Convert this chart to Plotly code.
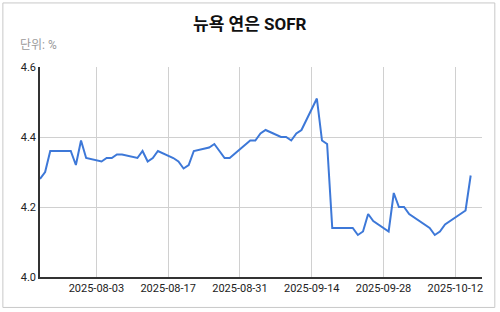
import plotly.graph_objects as go

dates = [
    "2025-07-23", "2025-07-24", "2025-07-25", "2025-07-28", "2025-07-29", "2025-07-30", "2025-07-31",
    "2025-08-01", "2025-08-04", "2025-08-05", "2025-08-06", "2025-08-07", "2025-08-08",
    "2025-08-11", "2025-08-12", "2025-08-13", "2025-08-14", "2025-08-15",
    "2025-08-18", "2025-08-19", "2025-08-20", "2025-08-21", "2025-08-22",
    "2025-08-25", "2025-08-26", "2025-08-27", "2025-08-28", "2025-08-29",
    "2025-09-02", "2025-09-03", "2025-09-04", "2025-09-05",
    "2025-09-08", "2025-09-09", "2025-09-10", "2025-09-11", "2025-09-12",
    "2025-09-15", "2025-09-16", "2025-09-17", "2025-09-18", "2025-09-19",
    "2025-09-22", "2025-09-23", "2025-09-24", "2025-09-25", "2025-09-26",
    "2025-09-29", "2025-09-30", "2025-10-01", "2025-10-02", "2025-10-03",
    "2025-10-06", "2025-10-07", "2025-10-08", "2025-10-09", "2025-10-10",
    "2025-10-14", "2025-10-15",
]
sofr = [
    4.28, 4.30, 4.36, 4.36, 4.36, 4.32, 4.39,
    4.34, 4.33, 4.34, 4.34, 4.35, 4.35,
    4.34, 4.36, 4.33, 4.34, 4.36,
    4.34, 4.33, 4.31, 4.32, 4.36,
    4.37, 4.38, 4.36, 4.34, 4.34,
    4.39, 4.39, 4.41, 4.42,
    4.40, 4.40, 4.39, 4.41, 4.42,
    4.51, 4.39, 4.38, 4.14, 4.14,
    4.14, 4.12, 4.13, 4.18, 4.16,
    4.13, 4.24, 4.20, 4.20, 4.18,
    4.15, 4.14, 4.12, 4.13, 4.15,
    4.19, 4.29,
]
x_ticks = ["2025-08-03", "2025-08-17", "2025-08-31", "2025-09-14", "2025-09-28", "2025-10-12"]
y_ticks = [4.0, 4.2, 4.4, 4.6]
title_text = "뉴욕 연은 SOFR"
unit_text = "단위: %"

FONT = "Roboto, 'Noto Sans CJK KR', sans-serif"

fig = go.Figure()
fig.add_trace(go.Scatter(
    x=dates, y=sofr, mode="lines",
    line=dict(color="#3d78d8", width=2),
    hoverinfo="skip", showlegend=False,
))

fig.update_layout(
    width=500, height=312,
    margin=dict(l=40, r=18, t=67, b=35),
    paper_bgcolor="white", plot_bgcolor="white",
    font=dict(family=FONT, size=11, color="#222"),
    xaxis=dict(
        type="date",
        range=["2025-07-23", "2025-10-17 05:00"],
        tickvals=x_ticks, tickformat="%Y-%m-%d",
        showgrid=True, gridcolor="#d0d0d0", gridwidth=1,
        showline=True, linecolor="#333", linewidth=1.5,
        ticks="", tickfont=dict(size=11, color="#222"),
        zeroline=False,
    ),
    yaxis=dict(
        range=[4.0, 4.6],
        tickvals=y_ticks, tickformat=".1f",
        showgrid=True, gridcolor="#d0d0d0", gridwidth=1,
        showline=True, linecolor="#333", linewidth=1.5,
        ticks="", tickfont=dict(size=11, color="#222"),
        zeroline=False,
    ),
    annotations=[
        dict(text=f"<b>{title_text}</b>", xref="paper", yref="paper",
             x=0.475, y=1.205, xanchor="center", yanchor="middle",
             showarrow=False, font=dict(family=FONT, size=17, color="#111")),
        dict(text=unit_text, xref="paper", yref="paper",
             x=-0.05, y=1.105, xanchor="left", yanchor="middle",
             showarrow=False, font=dict(family=FONT, size=12, color="#9a9a9a")),
    ],
    shapes=[
        dict(type="rect", xref="paper", yref="paper",
             x0=-0.084, x1=1.029, y0=-0.145, y1=1.305,
             line=dict(color="#c8c8c8", width=1), fillcolor="rgba(0,0,0,0)", layer="below"),
    ],
)

fig.write_html("out.html")
